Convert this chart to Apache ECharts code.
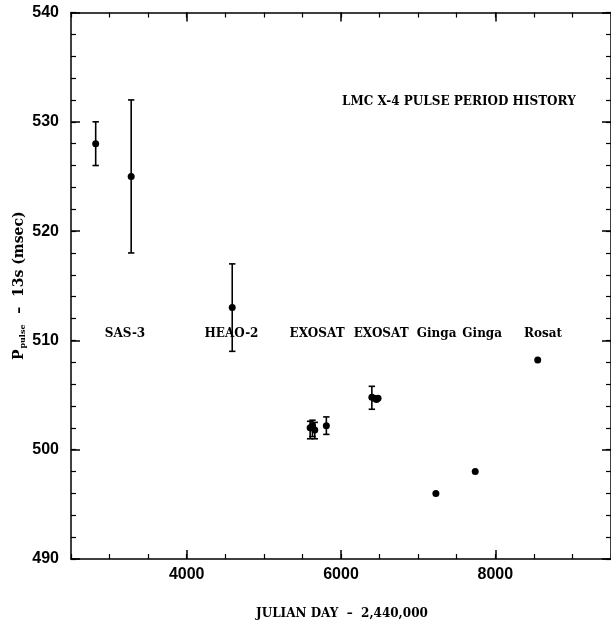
<!DOCTYPE html>
<html><head><meta charset="utf-8">
<script src="https://cdn.jsdelivr.net/npm/echarts@6/dist/echarts.min.js"></script>
<style>html,body{margin:0;padding:0;background:#fff}#c{width:611px;height:625px}</style>
</head><body><div id="c"></div>
<script>
// Observations: Julian Day - 2,440,000 and P_pulse - 13 s (msec)
const julianDay = [2820, 3280, 4590, 5600, 5630, 5660, 5810, 6400, 6430, 6460, 6480, 7230, 7740, 8550];
const periodMs  = [528.0, 525.0, 513.0, 502.0, 502.2, 501.8, 502.2, 504.8, 504.7, 504.6, 504.7, 496.0, 498.0, 508.2];
const errLow    = [526.0, 518.0, 509.0, 501.0, 501.2, 501.0, 501.4, 503.7, null, null, null, null, null, null];
const errHigh   = [530.0, 532.0, 517.0, 502.6, 502.7, 502.5, 503.0, 505.8, null, null, null, null, null, null];

const missionNames = ['SAS-3', 'HEAO-2', 'EXOSAT', 'EXOSAT', 'Ginga', 'Ginga', 'Rosat'];
const missionDay   = [3200, 4580, 5690, 6520, 7240, 7830, 8620];
const missionLevel = 510.6;

const xMajorTicks = [4000, 6000, 8000];
const chartTitle = 'LMC X-4 PULSE PERIOD HISTORY';
const xTitle = 'JULIAN DAY  \u2013  2,440,000';

const SERIF = '"DejaVu Serif", serif';
const SANS = '"Liberation Sans", Arial, sans-serif';
const BLACK = '#000';

const chart = echarts.init(document.getElementById('c'), null, {renderer: 'canvas'});

const xBase = {type: 'value', min: 2500, max: 9500, gridIndex: 0, splitLine: {show: false}};
const yBase = {type: 'value', min: 490, max: 540, gridIndex: 0, splitLine: {show: false}};
const lineStyle = {color: BLACK, width: 1.5};
const plain = v => String(v);

const errData = [];
julianDay.forEach((d, i) => {
  if (errLow[i] != null) errData.push([d, errLow[i], errHigh[i]]);
});

chart.setOption({
  animation: false,
  backgroundColor: '#fff',
  grid: {left: 71, top: 12.5, width: 542.5, height: 546.5, containLabel: false},
  title: {
    text: chartTitle, left: 337, top: 91,
    textStyle: {fontFamily: SERIF, fontWeight: 'bold', fontSize: 12, color: BLACK}
  },
  graphic: [{
    type: 'text', left: 256, top: 608,
    style: {text: xTitle, font: 'bold 12px ' + SERIF, fill: BLACK}
  }],
  xAxis: [
    Object.assign({}, xBase, {
      position: 'bottom',
      axisLine: {show: true, lineStyle},
      axisTick: {show: true, inside: true, length: 9, customValues: xMajorTicks, lineStyle},
      axisLabel: {show: true, customValues: xMajorTicks, formatter: plain, margin: 8, color: BLACK,
        fontFamily: SANS, fontWeight: 'bold', fontSize: 16}
    }),
    Object.assign({}, xBase, {
      position: 'bottom', interval: 500,
      axisLine: {show: false},
      axisTick: {show: true, inside: true, length: 5, lineStyle: {color: BLACK, width: 1.2}},
      axisLabel: {show: false}
    }),
    Object.assign({}, xBase, {
      position: 'top',
      axisLine: {show: true, lineStyle},
      axisTick: {show: true, inside: true, length: 9, customValues: xMajorTicks, lineStyle},
      axisLabel: {show: false}
    }),
    Object.assign({}, xBase, {
      position: 'top', interval: 500,
      axisLine: {show: false},
      axisTick: {show: true, inside: true, length: 5, lineStyle: {color: BLACK, width: 1.2}},
      axisLabel: {show: false}
    })
  ],
  yAxis: [
    Object.assign({}, yBase, {
      position: 'left', interval: 10,
      axisLine: {show: true, lineStyle},
      axisTick: {show: true, inside: true, length: 9, lineStyle},
      axisLabel: {show: true, formatter: plain, margin: 12, color: BLACK, fontFamily: SANS, fontWeight: 'bold', fontSize: 16},
      name: '{p|P}{s|pulse}{p|  \u2013  13s (msec)}',
      nameLocation: 'middle', nameGap: 44, nameRotate: 90, nameMoveOverlap: false,
      nameTextStyle: {
        color: BLACK,
        rich: {
          p: {fontFamily: SERIF, fontWeight: 'bold', fontSize: 14, color: BLACK},
          s: {fontFamily: SERIF, fontWeight: 'bold', fontSize: 8, color: BLACK, verticalAlign: 'bottom', padding: [7, 1, 0, 1]}
        }
      }
    }),
    Object.assign({}, yBase, {
      position: 'left', interval: 2,
      axisLine: {show: false},
      axisTick: {show: true, inside: true, length: 5, lineStyle: {color: BLACK, width: 1.2}},
      axisLabel: {show: false}
    }),
    Object.assign({}, yBase, {
      position: 'right', interval: 10,
      axisLine: {show: true, lineStyle},
      axisTick: {show: true, inside: true, length: 9, lineStyle},
      axisLabel: {show: false}
    }),
    Object.assign({}, yBase, {
      position: 'right', interval: 2,
      axisLine: {show: false},
      axisTick: {show: true, inside: true, length: 5, lineStyle: {color: BLACK, width: 1.2}},
      axisLabel: {show: false}
    })
  ],
  series: [
    {
      type: 'custom', xAxisIndex: 0, yAxisIndex: 0,
      data: errData,
      encode: {x: 0, y: [1, 2]},
      renderItem: function (params, api) {
        const x = api.value(0);
        const pLo = api.coord([x, api.value(1)]);
        const pHi = api.coord([x, api.value(2)]);
        const w = 3.2;
        const st = {stroke: BLACK, lineWidth: 1.6};
        return {type: 'group', children: [
          {type: 'line', shape: {x1: pLo[0], y1: pLo[1], x2: pHi[0], y2: pHi[1]}, style: st},
          {type: 'line', shape: {x1: pLo[0] - w, y1: pLo[1], x2: pLo[0] + w, y2: pLo[1]}, style: st},
          {type: 'line', shape: {x1: pHi[0] - w, y1: pHi[1], x2: pHi[0] + w, y2: pHi[1]}, style: st}
        ]};
      },
      z: 2
    },
    {
      type: 'scatter', xAxisIndex: 0, yAxisIndex: 0,
      data: julianDay.map((d, i) => [d, periodMs[i]]),
      symbol: 'circle', symbolSize: 7,
      itemStyle: {color: BLACK, opacity: 1},
      z: 3
    },
    {
      type: 'scatter', xAxisIndex: 0, yAxisIndex: 0,
      data: missionDay.map((d, i) => ({name: missionNames[i], value: [d, missionLevel]})),
      symbolSize: 0, silent: true,
      itemStyle: {color: BLACK, opacity: 1},
      label: {show: true, position: 'inside', formatter: '{b}', color: BLACK, opacity: 1,
        textBorderWidth: 0, fontFamily: SERIF, fontWeight: 'bold', fontSize: 12},
      z: 4
    }
  ]
});
</script>
</body></html>
